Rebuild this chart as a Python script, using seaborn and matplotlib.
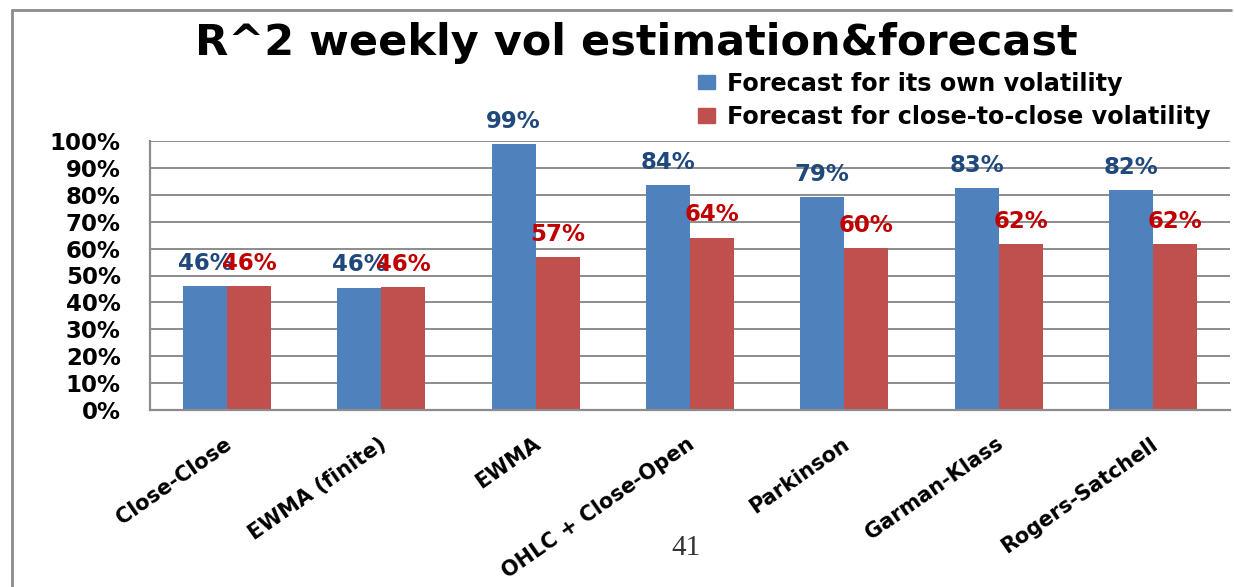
import pandas as pd
import matplotlib
matplotlib.use("Agg")
import matplotlib.pyplot as plt
import seaborn as sns
from matplotlib.ticker import PercentFormatter, MultipleLocator, FixedLocator
from matplotlib.lines import Line2D
from matplotlib.patches import Patch
from matplotlib.transforms import ScaledTranslation

# Data
estimators = ["Close-Close", "EWMA (finite)", "EWMA", "OHLC + Close-Open",
              "Parkinson", "Garman-Klass", "Rogers-Satchell"]
own_vol = [0.461, 0.455, 0.988, 0.836, 0.791, 0.826, 0.818]
c2c_vol = [0.461, 0.457, 0.569, 0.641, 0.601, 0.617, 0.616]
series_names = ["Forecast for its own volatility",
                "Forecast for close-to-close volatility"]
colors = ["#4F81BD", "#C0504D"]
label_colors = ["#1F497D", "#C00000"]

df = pd.DataFrame({
    "estimator": estimators * 2,
    "r2": own_vol + c2c_vol,
    "series": [series_names[0]] * len(estimators) + [series_names[1]] * len(estimators),
})

sns.set_style("white")
plt.rcParams["font.family"] = ["DejaVu Sans"]
plt.rcParams["text.color"] = "black"
plt.rcParams["xtick.color"] = "black"
plt.rcParams["ytick.color"] = "black"
grey = "#8C8C8C"

W, H = 1234, 587
fig = plt.figure(figsize=(W / 100, H / 100), dpi=100)
ax = fig.add_axes([150 / W, 1 - 410 / H, 1080 / W, 269 / H])

sns.barplot(data=df, x="estimator", y="r2", hue="series", palette=colors,
            width=0.57, gap=0, saturation=1, errorbar=None, legend=False,
            linewidth=0, ax=ax)

# data labels
for cont, col in zip(ax.containers, label_colors):
    ax.bar_label(cont, labels=[f"{v:.0%}" for v in cont.datavalues],
                 padding=8, color=col, fontsize=16.5, fontweight="bold")

ax.set_xlim(-0.5, len(estimators) - 0.5)
ax.set_ylim(0, 1)
ax.yaxis.set_major_locator(MultipleLocator(0.1))
ax.yaxis.set_major_formatter(PercentFormatter(1.0, decimals=0))
ax.yaxis.grid(True, color=grey, lw=1.4)
ax.set_axisbelow(True)
ax.set_xlabel("")
ax.set_ylabel("")

ax.xaxis.set_minor_locator(FixedLocator([i - 0.5 for i in range(len(estimators) + 1)]))
ax.tick_params(axis="x", which="major", length=0, pad=17)
ax.tick_params(axis="x", which="minor", length=6, width=1.4, color=grey, direction="out")
ax.tick_params(axis="y", length=8, width=1.4, color=grey, direction="out", pad=13)
ax.set_xticks(range(len(estimators)))
ax.set_xticklabels(estimators, rotation=35, ha="right", rotation_mode="anchor",
                   fontsize=15, fontweight="bold")
shift = ScaledTranslation(-3 / 100, 0, fig.dpi_scale_trans)
for lab in ax.get_xticklabels():
    lab.set_transform(lab.get_transform() + shift)
for lab in ax.get_yticklabels():
    lab.set_fontsize(16.5)
    lab.set_fontweight("bold")

for side in ["top", "right"]:
    ax.spines[side].set_visible(False)
for side in ["left", "bottom"]:
    ax.spines[side].set_color(grey)
    ax.spines[side].set_linewidth(1.6)

fig.text(636 / W, 1 - 43 / H, "R^2 weekly vol estimation&forecast",
         ha="center", va="center", fontsize=31, fontweight="bold")

handles = [Patch(color=c) for c in colors]
fig.legend(handles, series_names, loc="upper left",
           bbox_to_anchor=(688 / W, 1 - 62 / H), frameon=False,
           prop={"size": 17.2, "weight": "bold"}, handlelength=0.72,
           handleheight=0.55, handletextpad=0.5, labelspacing=0.4,
           borderaxespad=0)

# outer slide frame
fig.add_artist(Line2D([12 / W, 12 / W], [0, 1 - 10 / H], color=grey, lw=2,
                      transform=fig.transFigure))
fig.add_artist(Line2D([12 / W, 1231 / W], [1 - 10 / H, 1 - 10 / H], color=grey,
                      lw=2, transform=fig.transFigure))

fig.text(686 / W, 1 - 548 / H, "41", ha="center", va="center",
         fontsize=21, family="Liberation Serif", color="#333333")

fig.savefig("out.png", dpi=100)
